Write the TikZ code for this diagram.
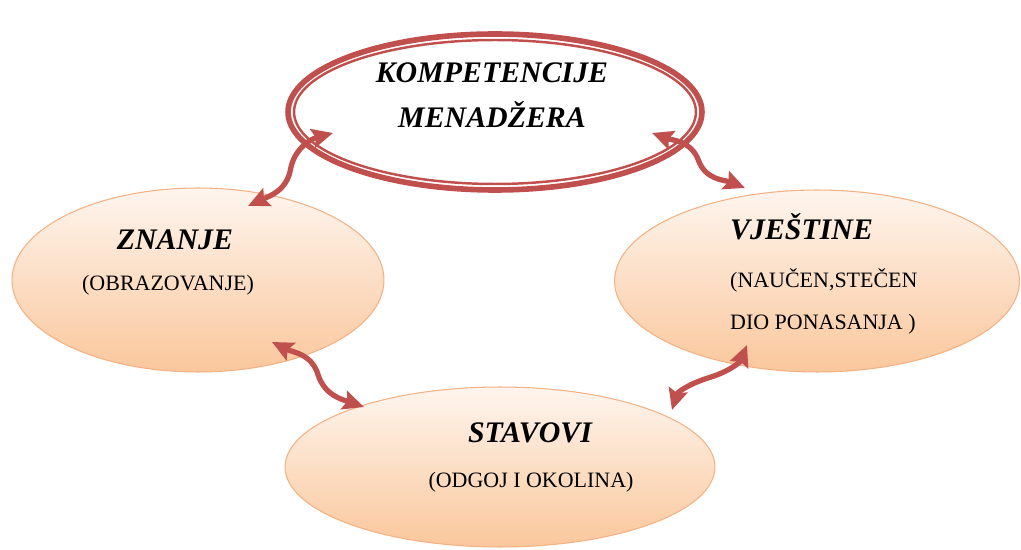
\documentclass[tikz,border=0pt]{standalone}
\usepackage{fontspec}
\setmainfont{Liberation Serif}
\usetikzlibrary{shapes.geometric,arrows.meta,calc}
\definecolor{arrowred}{RGB}{192,80,77}
\definecolor{peachtop}{RGB}{254,245,238}
\definecolor{peachbot}{RGB}{250,199,156}
\definecolor{peachline}{RGB}{244,177,131}
\begin{document}
\begin{tikzpicture}[x=0.02cm, y=0.02cm,
    oval/.style={ellipse, draw=peachline, line width=0.6pt, top color=peachtop, bottom color=peachbot, inner sep=0pt},
    title/.style={font=\fontsize{17}{20}\selectfont\bfseries\itshape},
    sub/.style={font=\fontsize{12.5}{15}\selectfont},
    wavy/.style={draw=arrowred, line width=3pt, {Stealth[length=12pt,width=11pt,inset=2pt]}-{Stealth[length=12pt,width=11pt,inset=2pt]}}]
  \useasboundingbox (0,0) rectangle (1021,-550);

  % ovals
  \node[ellipse, draw=arrowred, line width=3.2pt, inner sep=0pt,
        minimum width=8.28cm, minimum height=3.12cm] (komp) at (495,-112) {};
  \draw[arrowred, line width=1.4pt] (komp.center) ellipse [x radius=4.02cm, y radius=1.44cm];
  \node[oval, minimum width=7.44cm, minimum height=3.68cm] (znanje) at (198,-280) {};
  \node[oval, minimum width=8.1cm, minimum height=3.64cm] (vjestine) at (817,-281) {};
  \node[oval, minimum width=8.6cm, minimum height=3.2cm] (stavovi) at (500,-467) {};

  % texts
  \node[title, align=center, font=\fontsize{17}{26}\selectfont\bfseries\itshape] (kompT) at ($(komp.center)+(-3,17)$) {KOMPETENCIJE\\MENADŽERA};
  \node[title] (znanjeT) at ($(znanje.center)+(-23,40)$) {ZNANJE};
  \node[sub] (znanjeS) at ($(znanje.center)+(-30,-5)$) {(OBRAZOVANJE)};
  \node[title, anchor=west] (vjestineT) at ($(vjestine.center)+(-93,54)$) {VJEŠTINE};
  \node[sub, anchor=west, align=left, font=\fontsize{12.5}{23.8}\selectfont] (vjestineS) at ($(vjestine.center)+(-93,-20)$) {(NAUČEN,STEČEN\\DIO PONASANJA )};
  \node[title] (stavoviT) at ($(stavovi.center)+(30,34)$) {STAVOVI};
  \node[sub] (stavoviS) at ($(stavovi.center)+(31,-15)$) {(ODGOJ I OKOLINA)};

  % arrow ends
  \coordinate (k1) at ($(komp.center)+(-162,-21)$);
  \coordinate (k2) at ($(komp.center)+(157,-21)$);
  \coordinate (z1) at ($(znanje.center)+(50,74)$);
  \coordinate (z2) at ($(znanje.center)+(74,-62)$);
  \coordinate (v1) at ($(vjestine.center)+(-72,93)$);
  \coordinate (v2) at ($(vjestine.center)+(-70,-64)$);
  \coordinate (s1) at ($(stavovi.center)+(-136,60)$);
  \coordinate (s2) at ($(stavovi.center)+(172,57)$);

  % wavy arrows
  \draw[wavy] (k1) to[out=195,in=80] ($(k1)!.5!(z1)$) to[out=260,in=25] (z1);
  \draw[wavy] (k2) to[out=-20,in=110] ($(k2)!.5!(v1)$) to[out=-70,in=158] (v1);
  \draw[wavy] (z2) to[out=-27,in=107] ($(z2)!.5!(s1)$) to[out=-73,in=161] (s1);
  \draw[wavy] (v2) to[out=248,in=17] ($(v2)!.5!(s2)$) to[out=197,in=73] (s2);
\end{tikzpicture}
\end{document}
